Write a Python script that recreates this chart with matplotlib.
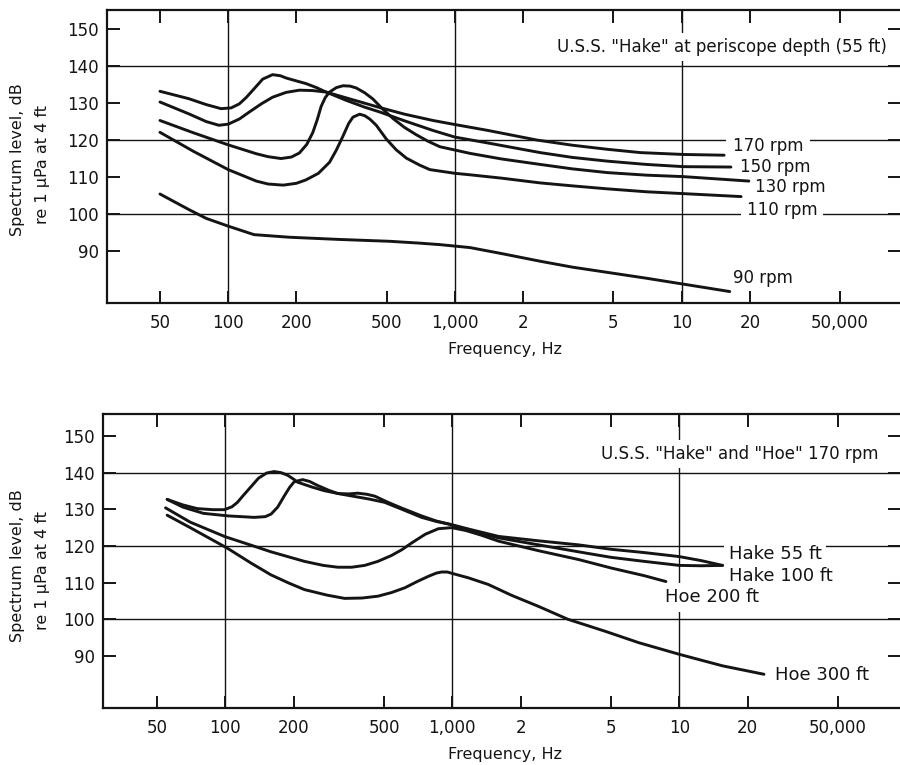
import matplotlib
matplotlib.use("Agg")
import matplotlib.pyplot as plt

# ---------------- data: upper panel (U.S.S. "Hake" at periscope depth) ----------------
rpm170_f = [50, 67, 80, 91, 100, 112, 124, 140, 157, 180, 206, 235, 270, 350, 466, 600, 800,
            1000, 1400, 2300, 3300, 4700, 6600, 10200, 15400]
rpm170_db = [130.3, 127.1, 125.0, 124.0, 124.3, 125.7, 127.6, 129.8, 131.6, 132.9, 133.5, 133.4,
             133.0, 131.0, 128.8, 127.0, 125.3, 124.2, 122.6, 120.0, 118.6, 117.5, 116.6, 116.1, 115.9]

rpm150_f = [50, 67, 80, 93, 103, 112, 120, 128, 142, 157, 170, 180, 200, 220, 245, 270, 330, 400,
            466, 600, 800, 1000, 1400, 2380, 3300, 4690, 7000, 10200, 16500]
rpm150_db = [133.2, 131.2, 129.6, 128.5, 128.7, 129.8, 131.5, 133.4, 136.5, 137.7, 137.4, 136.8,
             136.0, 135.3, 134.2, 133.0, 130.8, 128.9, 127.6, 125.2, 122.6, 120.8, 119.2, 116.6,
             115.3, 114.3, 113.4, 112.8, 112.7]

rpm130_f = [50, 70, 100, 133, 150, 171, 190, 206, 222, 236, 247, 257, 268, 280, 300, 321, 345, 367,
            400, 435, 480, 534, 600, 677, 760, 858, 1000, 1165, 1600, 2380, 3300, 4690, 7000,
            10200, 19800]
rpm130_db = [125.3, 122.0, 118.7, 116.3, 115.5, 115.0, 115.4, 116.5, 118.8, 122.0, 125.5, 129.1,
             131.5, 133.0, 134.2, 134.7, 134.6, 134.1, 132.8, 131.1, 128.4, 125.8, 123.4, 121.4,
             119.7, 118.2, 117.3, 116.4, 114.9, 113.4, 112.2, 111.2, 110.5, 110.1, 108.9]

rpm110_f = [50, 70, 100, 133, 150, 175, 200, 220, 250, 280, 300, 321, 340, 355, 380, 400, 421, 450,
            498, 550, 611, 700, 775, 1000, 1165, 1600, 2380, 3300, 4690, 7000, 10200, 18300]
rpm110_db = [122.1, 117.0, 112.0, 108.9, 108.1, 107.8, 108.3, 109.2, 111.0, 114.0, 117.3, 121.1,
             124.5, 126.2, 127.0, 126.6, 125.7, 124.0, 120.3, 117.4, 115.1, 113.2, 112.0, 111.0,
             110.6, 109.7, 108.4, 107.6, 106.8, 106.0, 105.5, 104.7]

rpm90_f = [50, 67, 80, 100, 130, 186, 310, 516, 700, 858, 1165, 1600, 2380, 3300, 4690, 7000,
           10200, 16300]
rpm90_db = [105.4, 101.2, 98.8, 96.7, 94.4, 93.7, 93.1, 92.6, 92.1, 91.7, 90.9, 89.3, 87.2, 85.6,
            84.2, 82.6, 81.0, 79.0]

# ---------------- data: lower panel (U.S.S. "Hake" and "Hoe" at 170 rpm) ----------------
hake55_f = [55.4, 65, 75, 88, 99, 107, 113, 120, 129, 140, 152, 164, 176, 188, 200, 208, 240, 272,
            320, 371, 430, 503, 600, 732, 850, 993, 1200, 1600, 2400, 3600, 5000, 7000, 10000,
            12500, 15500]
hake55_db = [132.7, 131.2, 130.2, 129.9, 129.9, 130.7, 131.9, 133.8, 136.0, 138.5, 139.9, 140.3,
             140.0, 139.3, 138.2, 137.4, 136.1, 135.1, 134.2, 133.5, 132.8, 131.9, 130.0, 127.8,
             126.7, 125.8, 124.5, 122.6, 121.4, 120.3, 119.1, 118.2, 117.1, 116.0, 114.7]

hake100_f = [55.4, 65, 80, 103, 134, 150, 159, 170, 182, 192, 201, 219, 235, 255, 285, 313, 350,
             383, 420, 455, 521, 600, 732, 850, 993, 1200, 1600, 2400, 3600, 5000, 7000, 10000,
             12500, 15500]
hake100_db = [132.7, 130.6, 128.9, 128.2, 127.8, 128.0, 128.7, 130.6, 133.7, 136.0, 137.5, 138.1,
              137.6, 136.5, 135.2, 134.3, 134.2, 134.4, 134.1, 133.6, 131.9, 130.3, 128.2, 126.8,
              125.8, 124.2, 122.2, 120.3, 118.4, 116.9, 115.8, 114.7, 114.6, 114.7]

hoe200_f = [54.5, 70, 100, 130, 159, 223, 270, 313, 360, 411, 470, 539, 600, 661, 760, 867, 993,
            1150, 1348, 1600, 2400, 3600, 5000, 7000, 8730]
hoe200_db = [130.4, 126.5, 122.5, 120.2, 118.4, 115.8, 114.7, 114.2, 114.2, 114.7, 115.8, 117.4,
             119.0, 120.8, 123.2, 124.7, 125.0, 124.2, 122.9, 121.3, 118.7, 116.3, 114.0, 111.9,
             110.3]

hoe300_f = [55.4, 70, 102, 130, 159, 190, 223, 280, 335, 400, 470, 540, 618, 700, 783, 850, 897,
            950, 1000, 1178, 1440, 1830, 2400, 3230, 4730, 6640, 10060, 15500, 23600]
hoe300_db = [128.4, 125.0, 119.4, 115.3, 112.1, 109.9, 108.1, 106.6, 105.7, 105.8, 106.3, 107.3,
             108.6, 110.3, 111.7, 112.6, 112.9, 112.9, 112.5, 111.3, 109.5, 106.5, 103.5, 100.0,
             96.7, 93.6, 90.4, 87.3, 85.0]

# ---------------- axis ticks ----------------
x_ticks = [50, 100, 200, 500, 1000, 2000, 5000, 10000, 20000, 50000]
x_tick_labels = ["50", "100", "200", "500", "1,000", "2", "5", "10", "20", "50,000"]
y_ticks = [90, 100, 110, 120, 130, 140, 150]
grid_x = [100, 1000, 10000]
grid_y = [100, 120, 140]

INK = "#141414"
plt.rcParams["font.family"] = ["DejaVu Sans"]

fig = plt.figure(figsize=(9, 7.65), dpi=100)
W, H = 900.0, 765.0


def make_axes(left_px, top_px, bottom_px, xlim, ylim):
    ax = fig.add_axes([left_px / W, 1 - bottom_px / H, (W - left_px) / W,
                       (bottom_px - top_px) / H])
    ax.set_xscale("log")
    ax.set_xlim(*xlim)
    ax.set_ylim(*ylim)
    ax.minorticks_off()
    ax.set_xticks(x_ticks)
    ax.set_xticklabels(x_tick_labels)
    ax.set_yticks(y_ticks)
    ax.set_yticklabels([str(v) for v in y_ticks])
    ax.tick_params(axis="both", which="major", direction="in", length=9, width=1.4,
                   color=INK, labelcolor=INK, labelsize=12)
    ax.tick_params(axis="x", pad=8, top=True)
    ax.tick_params(axis="y", pad=6, right=True)
    for side in ("left", "bottom", "top"):
        ax.spines[side].set_linewidth(1.6)
        ax.spines[side].set_color(INK)
    ax.spines["right"].set_visible(False)
    for gx in grid_x:
        ax.axvline(gx, color=INK, lw=1.0, zorder=1)
    for gy in grid_y:
        ax.axhline(gy, color=INK, lw=1.0, zorder=1)
    return ax


def label(ax, x, y, text, ha="left", pad=0.3, size=12):
    ax.text(x, y, text, ha=ha, va="center", fontsize=size, color=INK, zorder=2,
            bbox=dict(facecolor="white", edgecolor="none", boxstyle=f"square,pad={pad}"))


def curve(ax, f, db):
    ax.plot(f, db, color=INK, lw=2.1, zorder=3, solid_joinstyle="round",
            solid_capstyle="round")


# ---------------- upper panel ----------------
ax1 = make_axes(107, 10, 303, (29.2, 91900), (75.9, 155.2))
for f, db in [(rpm170_f, rpm170_db), (rpm150_f, rpm150_db), (rpm130_f, rpm130_db),
              (rpm110_f, rpm110_db), (rpm90_f, rpm90_db)]:
    curve(ax1, f, db)
label(ax1, 80560, 145.2, 'U.S.S. "Hake" at periscope depth (55 ft)', ha="right", pad=0.3)
label(ax1, 16860, 118.4, "170 rpm", pad=0.4)
label(ax1, 18100, 112.6, "150 rpm", pad=0.15)
label(ax1, 21080, 107.2, "130 rpm", pad=0.15)
label(ax1, 19430, 101.2, "110 rpm", pad=0.35)
label(ax1, 16860, 82.7, "90 rpm", pad=0.2)

# ---------------- lower panel ----------------
ax2 = make_axes(103, 414, 708, (28.9, 93800), (75.8, 156.0))
for f, db in [(hake55_f, hake55_db), (hake100_f, hake100_db), (hoe200_f, hoe200_db),
              (hoe300_f, hoe300_db)]:
    curve(ax2, f, db)
label(ax2, 75070, 145.2, 'U.S.S. "Hake" and "Hoe" 170 rpm', ha="right", pad=0.3)
label(ax2, 16550, 117.8, "Hake 55 ft", pad=0.25, size=13)
label(ax2, 16550, 111.8, "Hake 100 ft", pad=0.15, size=13)
label(ax2, 8650, 106.0, "Hoe 200 ft", pad=0.3, size=13)
label(ax2, 26400, 84.7, "Hoe 300 ft", pad=0.2, size=13)

# ---------------- axis titles ----------------
for yc in (160, 566):
    fig.text(18 / W, 1 - yc / H, "Spectrum level, dB", rotation=90, ha="center", va="center",
             fontsize=11.5, color=INK)
    fig.text(42 / W, 1 - (yc + 4) / H, "re 1 \u03bcPa at 4 ft", rotation=90, ha="center",
             va="center", fontsize=11.5, color=INK)
for yc in (350, 755):
    fig.text(505 / W, 1 - yc / H, "Frequency, Hz", ha="center", va="center", fontsize=11.5,
             color=INK)

fig.savefig("out.png", dpi=100, facecolor="white")
